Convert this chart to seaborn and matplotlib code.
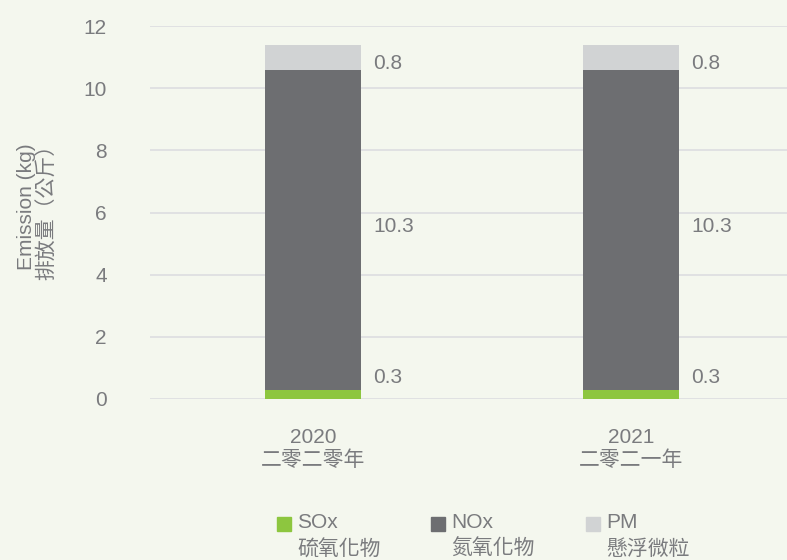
import numpy as np
import pandas as pd
import seaborn as sns
import matplotlib.pyplot as plt
from matplotlib.patches import Rectangle

years = ["2020\n二零二零年", "2021\n二零二一年"]
sox = [0.3, 0.3]
nox = [10.3, 10.3]
pm = [0.8, 0.8]
series_names = ["SOx\n硫氧化物", "NOx\n氮氧化物", "PM\n懸浮微粒"]
colors = ["#8dc63f", "#6d6e71", "#d1d3d4"]
yticks = [0, 2, 4, 6, 8, 10, 12]

TEXT = "#7a7b7e"
BG = "#f4f7ee"
FS = 15

sns.set_theme(style="white")
plt.rcParams['font.family'] = ['Liberation Sans', 'Noto Sans CJK TC', 'DejaVu Sans']

df = pd.DataFrame({"year": years, "SOx": sox, "NOx": nox, "PM": pm})
df["c1"] = df["SOx"]
df["c2"] = df["SOx"] + df["NOx"]
df["c3"] = df["c2"] + df["PM"]

fig = plt.figure(figsize=(7.87, 5.6), dpi=100)
fig.patch.set_facecolor(BG)
ax = fig.add_axes([0.1906, 0.2875, 0.8094, 0.666])
ax.set_facecolor(BG)

# stacked bars drawn as cumulative totals, tallest first
for col, c in zip(["c3", "c2", "c1"], colors[::-1]):
    sns.barplot(data=df, x="year", y=col, color=c, width=0.3,
                saturation=1, linewidth=0, ax=ax, zorder=3)

ax.set_ylim(0, 12)
ax.set_xlim(-0.513, 1.49)
ax.set_yticks(yticks)
ax.yaxis.grid(True, color="#dcdde0", linewidth=1.2, zorder=0)
ax.set_axisbelow(True)
for s in ax.spines.values():
    s.set_visible(False)
ax.tick_params(axis="y", length=0, pad=31, labelsize=FS, labelcolor=TEXT)
ax.tick_params(axis="x", length=0, pad=21, labelsize=FS, labelcolor=TEXT)
for t in ax.get_xticklabels():
    t.set_linespacing(1.2)
ax.set_xlabel("")
ax.set_ylabel("Emission (kg)\n排放量（公斤）", fontsize=FS, color=TEXT,
              linespacing=1.05)
ax.yaxis.set_label_coords(-0.146, 0.515)

# value labels to the right of each bar
for i in range(len(years)):
    x = i + 0.15 + 0.04
    ax.text(x, df["c1"][i] + 0.38, f"{sox[i]}", color=TEXT, fontsize=FS,
            va="center", ha="left")
    ax.text(x, df["c1"][i] + nox[i] / 2 + 0.1, f"{nox[i]}", color=TEXT,
            fontsize=FS, va="center", ha="left")
    ax.text(x, df["c2"][i] + pm[i] / 2 - 0.2, f"{pm[i]}", color=TEXT,
            fontsize=FS, va="center", ha="left")

# legend
lx = [277, 431, 586]
for x0, name, c in zip(lx, series_names, colors):
    fig.patches.append(Rectangle((x0 / 787, 1 - 531 / 560), 14 / 787, 14 / 560,
                                 transform=fig.transFigure, color=c))
    first, second = name.split("\n")
    fig.text((x0 + 20) / 787, 1 - 523 / 560, first, color=TEXT, fontsize=FS,
             va="center", ha="left")
    fig.text((x0 + 20) / 787, 1 - 549 / 560, second, color=TEXT, fontsize=FS,
             va="center", ha="left")

fig.savefig("out.png", dpi=100, facecolor=BG)
